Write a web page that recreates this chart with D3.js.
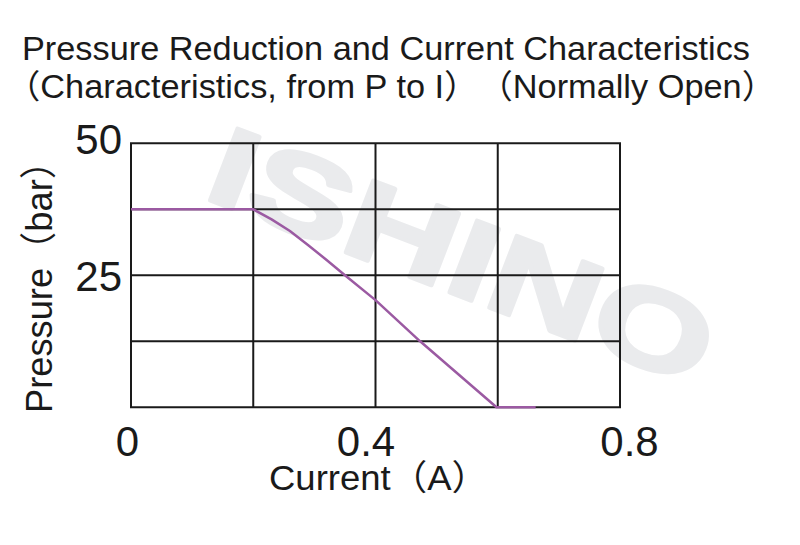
<!DOCTYPE html>
<html>
<head>
<meta charset="utf-8">
<script src="https://cdn.jsdelivr.net/npm/d3@7"></script>
<style>
  html, body { margin: 0; padding: 0; background: #fff; }
  svg { display: block; }
  text { font-family: "Liberation Sans", Arial, "Noto Sans CJK SC", sans-serif; fill: #1a1a1a; }
</style>
</head>
<body>
<svg id="chart" width="800" height="545"></svg>
<script>
// ---- data ----
const titleLine1 = "Pressure Reduction and Current Characteristics";
const titleLine2 = "（Characteristics, from P to I）　（Normally Open）";
const xAxisTitle = "Current（A）";
const yAxisTitle = "Pressure（bar）";
const watermark = "ISHINO";

const xGrid = [0, 0.2, 0.4, 0.6, 0.8];
const yGrid = [0, 12.5, 25, 37.5, 50];
const xTickValues = [0, 0.4, 0.8];
const xTickLabels = ["0", "0.4", "0.8"];
const yTickValues = [25, 50];
const yTickLabels = ["25", "50"];

const current  = [0, 0.2, 0.23, 0.26, 0.29, 0.32, 0.35, 0.4, 0.473, 0.598, 0.662];
const pressure = [37.5, 37.5, 35.6, 33.4, 30.7, 27.9, 25.0, 20.3, 12.5, 0, 0];

// ---- drawing ----
const svg = d3.select("#chart");
const x = d3.scaleLinear().domain([0, 0.8]).range([131, 620]);
const y = d3.scaleLinear().domain([0, 50]).range([407.3, 143.3]);

// watermark
svg.append("text")
  .attr("transform", "translate(201,197) rotate(21)")
  .attr("textLength", 530)
  .attr("lengthAdjust", "spacingAndGlyphs")
  .style("font-size", "112px")
  .style("font-weight", "bold")
  .style("fill", "#eaebed")
  .style("stroke", "#eaebed")
  .style("stroke-width", 4)
  .style("stroke-linejoin", "round")
  .text(watermark);

// titles
svg.append("text").attr("x", 22).attr("y", 60)
  .attr("textLength", 728).attr("lengthAdjust", "spacingAndGlyphs")
  .style("font-size", "33px").text(titleLine1);
svg.append("text").attr("x", 6).attr("y", 98)
  .attr("textLength", 770).attr("lengthAdjust", "spacingAndGlyphs")
  .style("font-size", "33px").text(titleLine2);

// grid
const grid = svg.append("g").attr("stroke", "#1a1a1a").attr("stroke-width", 2);
grid.selectAll("line.v").data(xGrid).join("line").attr("class", "v")
  .attr("x1", d => x(d)).attr("x2", d => x(d))
  .attr("y1", y(50)).attr("y2", y(0));
grid.selectAll("line.h").data(yGrid).join("line").attr("class", "h")
  .attr("x1", x(0) - 1).attr("x2", x(0.8) + 1)
  .attr("y1", d => y(d)).attr("y2", d => y(d));

// curve
const pts = current.map((c, i) => [c, pressure[i]]);
const line = d3.line().x(d => x(d[0])).y(d => y(d[1])).curve(d3.curveLinear);
svg.append("path").datum(pts)
  .attr("fill", "none").attr("stroke", "#9b5aa2").attr("stroke-width", 2.5)
  .attr("stroke-linejoin", "round")
  .attr("d", line);

// axes labels (ticks)
const xAxis = d3.axisBottom(x).tickValues(xTickValues)
  .tickFormat((d, i) => xTickLabels[i]).tickSize(0).tickPadding(0);
const gx = svg.append("g").attr("transform", `translate(0,${y(0)})`).call(xAxis);
gx.select(".domain").remove();
const xDx = [-4, -10, 9];
gx.selectAll(".tick text")
  .attr("y", 0).attr("dy", 0)
  .attr("transform", (d, i) => `translate(${xDx[i]},49)`)
  .style("font-size", "42px").style("font-family", null).attr("fill", "#1a1a1a");

const yAxis = d3.axisLeft(y).tickValues(yTickValues)
  .tickFormat((d, i) => yTickLabels[i]).tickSize(0).tickPadding(0);
const gy = svg.append("g").attr("transform", `translate(${x(0) - 9},0)`).call(yAxis);
gy.select(".domain").remove();
gy.selectAll(".tick text")
  .attr("x", 0).attr("dy", 0)
  .attr("transform", (d, i) => `translate(0,${d === 50 ? 10 : 15})`)
  .style("font-size", "42px").style("font-family", null).attr("fill", "#1a1a1a");

// axis titles
svg.append("text").attr("x", 269).attr("y", 490)
  .attr("textLength", 219).attr("lengthAdjust", "spacingAndGlyphs")
  .style("font-size", "35px").text(xAxisTitle);
svg.append("text")
  .attr("transform", "translate(52,413) rotate(-90)")
  .attr("textLength", 270).attr("lengthAdjust", "spacingAndGlyphs")
  .style("font-size", "37px").text(yAxisTitle);
</script>
</body>
</html>
